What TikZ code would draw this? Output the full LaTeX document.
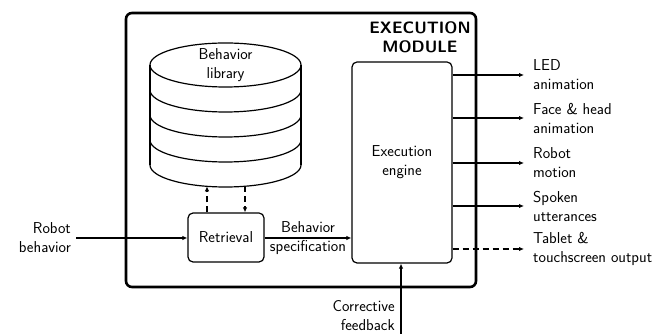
\documentclass[tikz,border=0pt]{standalone}
\usetikzlibrary{arrows.meta}
\begin{document}
\begin{tikzpicture}[x=1pt,y=1pt,
  every node/.style={font=\sffamily\fontsize{15.8}{19}\selectfont, align=center, inner sep=0pt},
  outerbox/.style={draw, line width=2.6pt, rounded corners=6pt},
  blockbox/.style={draw, line width=1.2pt, rounded corners=5pt},
  conn/.style={line width=1.1pt, -{Latex[length=5pt,width=4.5pt]}},
  dconn/.style={conn, dash pattern=on 6pt off 4pt},
  cyl/.style={line width=1.2pt}]
\useasboundingbox (0,0) rectangle (672,334);
% outer module
\draw[outerbox] (126,47) rectangle (476,321);
\node[font=\sffamily\bfseries\fontsize{16.5}{19}\selectfont] (title) at (420,296.5) {EXECUTION\\MODULE};
% cylinder
\draw[cyl] (225.5,269) ellipse [x radius=75.5, y radius=22];
\draw[cyl] (150,269) -- (150,169);
\draw[cyl] (301,269) -- (301,169);
\foreach \yy in {244,219,194,169}
  \draw[cyl] (150,\yy) arc[start angle=180, end angle=360, x radius=75.5, y radius=22];
\node (lib) at (225.5,269) {Behavior\\library};
\coordinate (libin) at (207,147.7);
\coordinate (libout) at (245,147.7);
% blocks
\node[blockbox, minimum width=76pt, minimum height=49pt] (retr) at (226,96.5) {Retrieval};
\node[blockbox, minimum width=100pt, minimum height=201pt] (eng) at (402,171.5) {Execution\\engine};
% inputs
\node[anchor=east, align=right] (rb) at (71,96) {Robot\\behavior};
\coordinate (rbs) at (76,96);
\draw[conn] (rbs) -- (retr.west |- rbs);
\draw[dconn] (retr.north -| libin) -- (libin);
\draw[dconn] (libout) -- (retr.north -| libout);
\draw[conn] (retr.east |- rbs) -- (eng.west |- rbs);
\node (spec) at (308,96) {Behavior\\specification};
% corrective feedback
\coordinate (fb) at (401,0);
\draw[conn] (fb) -- (fb |- eng.south);
\node[anchor=east, align=right] (fbl) at (395,18) {Corrective\\feedback};
% outputs
\foreach \yy/\nm/\txt in {259/o1/{LED\\animation}, 216/o2/{Face \& head\\animation}, 171/o3/{Robot\\motion}, 128/o4/{Spoken\\utterances}}{
  \node[anchor=west, align=left] (\nm) at (533,\yy) {\txt};
  \draw[conn] (eng.east |- 0,\yy) -- (524,\yy);
}
\node[anchor=west, align=left] (o5) at (533,85) {Tablet \&\\touchscreen output};
\draw[dconn] (eng.east |- 0,85) -- (524,85);
\end{tikzpicture}
\end{document}
